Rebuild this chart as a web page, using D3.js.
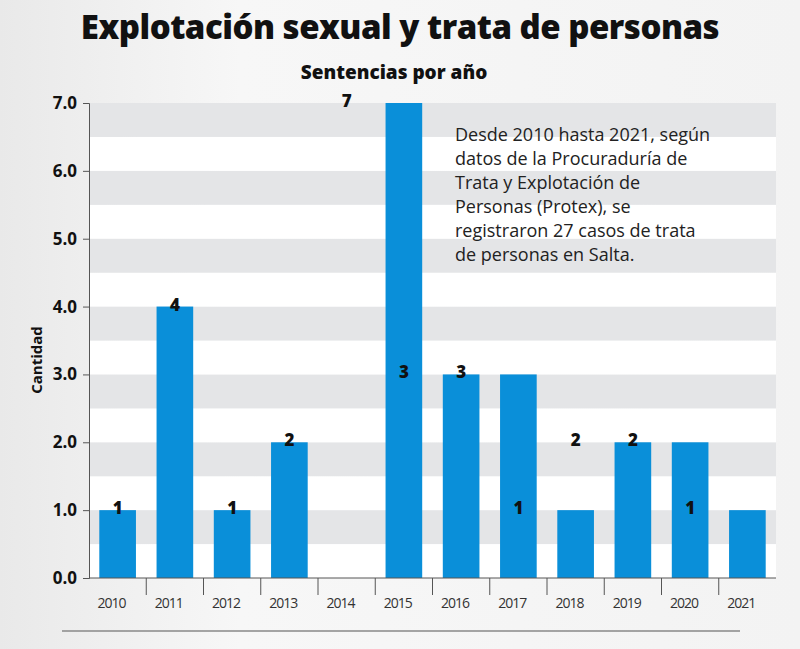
<!DOCTYPE html>
<meta charset="utf-8">
<script src="https://d3js.org/d3.v7.min.js"></script>
<style>
  body { margin: 0; background: #f3f3f3; }
  text { font-family: "Open Sans", sans-serif; }
</style>
<div id="chart"></div>
<script>
  // data
  const years = ["2010","2011","2012","2013","2014","2015","2016","2017","2018","2019","2020","2021"];
  const sentencias = [1, 4, 1, 2, 0, 7, 3, 3, 1, 2, 2, 1];
  const yTicks = [0, 1, 2, 3, 4, 5, 6, 7];
  const note = ["Desde 2010 hasta 2021, según", "datos de la Procuraduría de",
                "Trata y Explotación de", "Personas (Protex), se",
                "registraron 27 casos de trata", "de personas en Salta."];

  const W = 800, H = 649;
  const plotL = 89, plotR = 776, plotT = 103, plotB = 578;

  const svg = d3.select("#chart").append("svg").attr("width", W).attr("height", H);

  const bg = svg.append("defs").append("linearGradient").attr("id", "bg");
  bg.append("stop").attr("offset", "0%").attr("stop-color", "#e9e9e9");
  bg.append("stop").attr("offset", "30%").attr("stop-color", "#f7f7f7");
  bg.append("stop").attr("offset", "100%").attr("stop-color", "#f3f3f3");
  svg.append("rect").attr("width", W).attr("height", H).attr("fill", "url(#bg)");

  const x = d3.scaleBand().domain(years).range([plotL, plotR]).paddingInner(0.36).paddingOuter(0.18);
  const xb = d3.scaleBand().domain(years).range([plotL, plotR]);
  const y = d3.scaleLinear().domain([0, 7]).range([plotB, plotT]);

  // stripes: white bands 0–0.5, grey bands 0.5–1, etc.
  const bands = d3.range(0, 7, 0.5);
  svg.append("g").selectAll("rect").data(bands).join("rect")
    .attr("x", plotL).attr("width", plotR - plotL)
    .attr("y", d => y(d + 0.5)).attr("height", d => y(d) - y(d + 0.5))
    .attr("fill", d => (d % 1 === 0) ? "#ffffff" : "#e4e5e7");

  // bars
  svg.append("g").selectAll("rect").data(sentencias).join("rect")
    .attr("x", (d, i) => x(years[i])).attr("width", x.bandwidth())
    .attr("y", d => y(d)).attr("height", d => y(0) - y(d))
    .attr("fill", "#0a8fd9");

  svg.append("g").selectAll("text").data(sentencias).join("text")
    .filter(d => d > 0)
    .attr("x", (d, i) => x(years[i]) + x.bandwidth() / 2).attr("y", d => y(d) + 4)
    .attr("text-anchor", "middle").attr("font-size", 17).attr("font-weight", 800)
    .attr("fill", "#111").text(d => d);

  // y axis
  const ya = svg.append("g").attr("transform", `translate(${plotL},0)`)
    .call(d3.axisLeft(y).tickValues(yTicks).tickSize(6).tickPadding(6));
  ya.select(".domain").attr("stroke", "#555");
  ya.selectAll(".tick line").attr("stroke", "#555");
  ya.selectAll("text").attr("font-size", 17).attr("font-weight", 700).attr("fill", "#111");

  // x axis
  svg.append("line").attr("x1", plotL).attr("x2", plotR).attr("y1", plotB).attr("y2", plotB).attr("stroke", "#555");
  svg.append("g").selectAll("line").data(years.slice(1)).join("line")
    .attr("x1", d => xb(d)).attr("x2", d => xb(d))
    .attr("y1", plotB).attr("y2", plotB + 17).attr("stroke", "#555");
  svg.append("g").selectAll("text").data(years).join("text")
    .attr("x", d => xb(d) + xb.bandwidth() / 2 - 6).attr("y", plotB + 30)
    .attr("text-anchor", "middle").attr("font-size", 14).attr("letter-spacing", -1)
    .attr("fill", "#333").text(d => d);

  // titles
  svg.append("text").attr("x", 400).attr("y", 39).attr("text-anchor", "middle")
    .attr("font-size", 33).attr("font-weight", 800).attr("fill", "#111").attr("letter-spacing", -0.5)
    .text("Explotación sexual y trata de personas");
  svg.append("text").attr("x", 394).attr("y", 79).attr("text-anchor", "middle")
    .attr("font-size", 19).attr("font-weight", 800).attr("fill", "#111")
    .text("Sentencias por año");
  svg.append("text").attr("transform", "translate(42,360) rotate(-90)").attr("text-anchor", "middle")
    .attr("font-size", 15).attr("font-weight", 700).attr("fill", "#111").text("Cantidad");

  // note
  svg.append("g").selectAll("text").data(note).join("text")
    .attr("x", 455).attr("y", (d, i) => 141 + i * 24)
    .attr("font-size", 18).attr("fill", "#222").text(d => d);

  // bottom rule
  svg.append("line").attr("x1", 62).attr("x2", 740).attr("y1", 631).attr("y2", 631)
    .attr("stroke", "#888").attr("stroke-width", 1.5);
</script>
